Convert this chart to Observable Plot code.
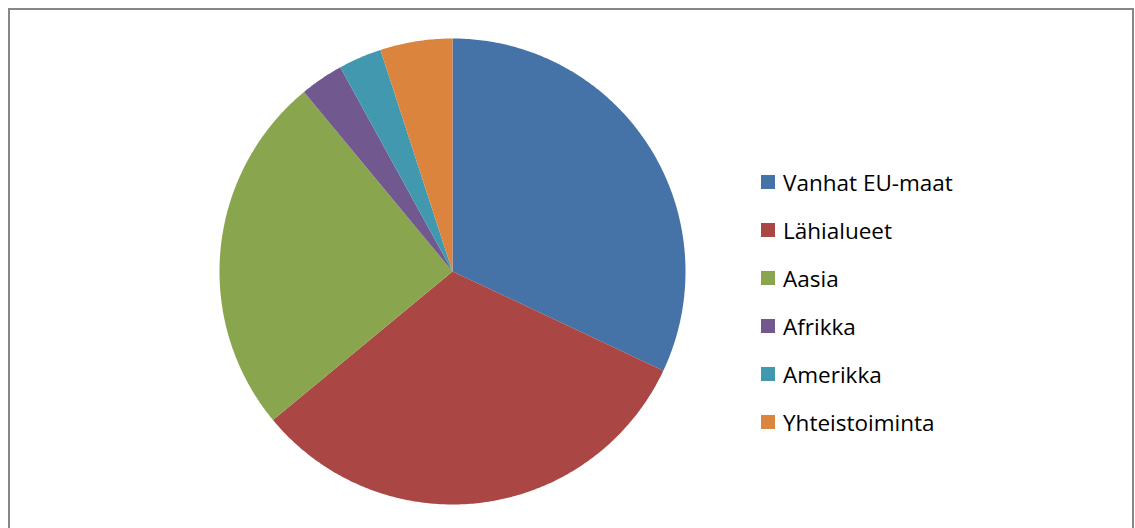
<!DOCTYPE html>
<html>
<head>
<meta charset="utf-8">
<script src="https://cdn.jsdelivr.net/npm/d3@7"></script>
<script src="https://cdn.jsdelivr.net/npm/@observablehq/plot@0.6"></script>
<style>
  html, body { margin: 0; padding: 0; background: #fff; overflow: hidden; }
  #wrap { position: relative; width: 1135px; height: 528px; }
  #frame { position: absolute; left: 8px; top: 8px; width: 1126px; height: 600px;
           border: 2px solid #878787; box-sizing: border-box; pointer-events: none; }
  #legend { position: absolute; left: 761px; top: 158px; font-family: "Open Sans", sans-serif;
            font-size: 22.5px; color: #000; }
  .item { display: flex; align-items: center; height: 48px; }
  .sw { width: 14px; height: 14px; margin-right: 8px; }
</style>
</head>
<body>
<div id="wrap"><div id="chart"></div><div id="frame"></div><div id="legend"></div></div>
<script>
const categories = ["Vanhat EU-maat", "Lähialueet", "Aasia", "Afrikka", "Amerikka", "Yhteistoiminta"];
const values = [32, 32, 25, 3, 3, 5];
const colors = ["#4572A7", "#AA4643", "#89A54E", "#71588F", "#4198AF", "#DB843D"];

const arcs = d3.pie().sort(null).value(d => d.value)(categories.map((name, i) => ({name, value: values[i]})));
const pts = [];
for (const a of arcs) {
  const name = a.data.name;
  pts.push({name, x: 0, y: 0});
  const n = Math.max(2, Math.ceil((a.endAngle - a.startAngle) / 0.01));
  for (let k = 0; k <= n; k++) {
    const t = a.startAngle + (a.endAngle - a.startAngle) * k / n;
    pts.push({name, x: Math.sin(t), y: Math.cos(t)});
  }
  pts.push({name, x: 0, y: 0});
}

const chart = Plot.plot({
  width: 1135, height: 528,
  marginLeft: 219, marginRight: 450, marginTop: 38, marginBottom: 24,
  x: {domain: [-1, 1], axis: null},
  y: {domain: [-1, 1], axis: null},
  color: {domain: categories, range: colors},
  style: {background: "transparent"},
  marks: [
    Plot.line(pts, {x: "x", y: "y", z: "name", fill: "name", stroke: "none", curve: "linear"})
  ]
});
document.getElementById("chart").appendChild(chart);

const leg = document.getElementById("legend");
categories.forEach((c, i) => {
  const it = document.createElement("div");
  it.className = "item";
  const sw = document.createElement("div");
  sw.className = "sw";
  sw.style.background = colors[i];
  const tx = document.createElement("span");
  tx.textContent = c;
  it.appendChild(sw); it.appendChild(tx);
  leg.appendChild(it);
});
</script>
</body>
</html>
